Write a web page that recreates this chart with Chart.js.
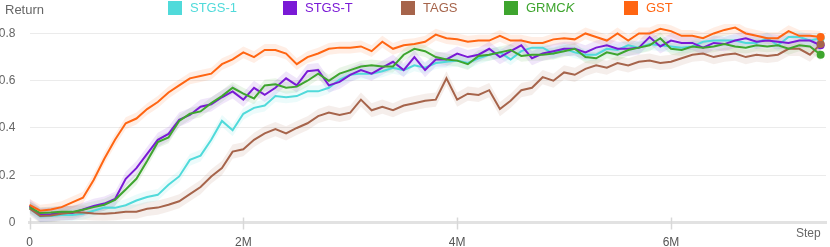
<!DOCTYPE html>
<html>
<head>
<meta charset="utf-8">
<script src="https://cdn.jsdelivr.net/npm/chart.js@4.4.0/dist/chart.umd.min.js"></script>
<style>
  html, body { margin: 0; padding: 0; background: #fff; }
  #wrap { position: relative; width: 830px; height: 247px; font-family: "Liberation Sans", Arial, sans-serif; }
  #chart { position: absolute; left: 0; top: 0; }
  .axisTitle { position: absolute; font-size: 13px; color: #666; }
  .legendItem { position: absolute; top: 0; height: 16px; font-size: 13px; line-height: 16px; white-space: nowrap; }
  .legendItem .box { position: absolute; left: 0; top: 1px; width: 14px; height: 14px; }
  .legendItem .label { position: absolute; left: 22px; top: 0; }
</style>
</head>
<body>
<div id="wrap">
  <canvas id="chart" width="830" height="247"></canvas>
  <div class="axisTitle" style="left:5px; top:2px;">Return</div>
  <div class="axisTitle" style="left:796px; top:226px; font-size:12px;">Step</div>
  <div id="legend"></div>
</div>
<script>
// step in millions
const STEPS = [
  0, 0.1, 0.2, 0.3, 0.4, 0.5, 0.6, 0.7, 0.8, 0.9,
  1.0, 1.1, 1.2, 1.3, 1.4, 1.5, 1.6, 1.7, 1.8, 1.9,
  2.0, 2.1, 2.2, 2.3, 2.4, 2.5, 2.6, 2.7, 2.8, 2.9,
  3.0, 3.1, 3.2, 3.3, 3.4, 3.5, 3.6, 3.7, 3.8, 3.9,
  4.0, 4.1, 4.2, 4.3, 4.4, 4.5, 4.6, 4.7, 4.8, 4.9,
  5.0, 5.1, 5.2, 5.3, 5.4, 5.5, 5.6, 5.7, 5.8, 5.9,
  6.0, 6.1, 6.2, 6.3, 6.4, 6.5, 6.6, 6.7, 6.8, 6.9,
  7.0, 7.1, 7.2, 7.3, 7.4
];

const STGS_1 = [
  0.06, 0.025, 0.028, 0.032, 0.032, 0.037, 0.05, 0.063, 0.062, 0.073,
  0.093, 0.108, 0.117, 0.16, 0.195, 0.265, 0.283, 0.35, 0.43, 0.39,
  0.46, 0.485, 0.495, 0.535, 0.53, 0.535, 0.555, 0.555, 0.57, 0.605,
  0.625, 0.63, 0.63, 0.64, 0.655, 0.645, 0.665, 0.655, 0.675, 0.68,
  0.685, 0.675, 0.695, 0.71, 0.72, 0.69, 0.725, 0.74, 0.74, 0.715,
  0.735, 0.72, 0.71, 0.71, 0.735, 0.73, 0.75, 0.74, 0.755, 0.75,
  0.745, 0.74, 0.745, 0.765, 0.77, 0.77, 0.77, 0.76, 0.76, 0.78,
  0.75, 0.785, 0.785, 0.77, 0.78
];

const STGS_T = [
  0.07, 0.032, 0.035, 0.04, 0.04, 0.055, 0.07, 0.08, 0.10, 0.185,
  0.23, 0.29, 0.35, 0.375, 0.435, 0.455, 0.49, 0.50, 0.53, 0.555,
  0.52, 0.57, 0.54, 0.57, 0.61, 0.58, 0.64, 0.645, 0.58, 0.595,
  0.625, 0.645, 0.63, 0.655, 0.68, 0.645, 0.70, 0.645, 0.69, 0.69,
  0.715, 0.70, 0.71, 0.735, 0.70, 0.725, 0.75, 0.695, 0.715, 0.725,
  0.735, 0.735, 0.72, 0.74, 0.75, 0.735, 0.735, 0.74, 0.785, 0.745,
  0.77, 0.76, 0.76, 0.74, 0.76, 0.755, 0.77, 0.78, 0.765, 0.77,
  0.765, 0.76, 0.77, 0.77, 0.75
];

const TAGS = [
  0.06, 0.028, 0.03, 0.037, 0.042, 0.042, 0.038, 0.037, 0.04, 0.045,
  0.046, 0.058, 0.063, 0.075, 0.09, 0.12, 0.15, 0.195, 0.23, 0.30,
  0.31, 0.35, 0.377, 0.395, 0.377, 0.40, 0.42, 0.45, 0.465, 0.455,
  0.465, 0.52, 0.475, 0.49, 0.475, 0.495, 0.505, 0.515, 0.52, 0.61,
  0.52, 0.545, 0.54, 0.56, 0.48, 0.515, 0.56, 0.57, 0.615, 0.60,
  0.635, 0.625, 0.65, 0.665, 0.655, 0.675, 0.665, 0.68, 0.685, 0.675,
  0.68, 0.695, 0.71, 0.715, 0.70, 0.71, 0.715, 0.70, 0.71, 0.705,
  0.71, 0.735, 0.735, 0.71, 0.755
];

const GRMCK = [
  0.065, 0.04, 0.042, 0.046, 0.045, 0.054, 0.065, 0.075, 0.096, 0.14,
  0.185, 0.26, 0.34, 0.36, 0.43, 0.46, 0.47, 0.505, 0.535, 0.57,
  0.545, 0.525, 0.58, 0.585, 0.57, 0.575, 0.60, 0.63, 0.60, 0.63,
  0.645, 0.66, 0.665, 0.66, 0.66, 0.71, 0.735, 0.725, 0.70, 0.69,
  0.685, 0.67, 0.705, 0.71, 0.72, 0.73, 0.705, 0.71, 0.71, 0.715,
  0.725, 0.735, 0.70, 0.695, 0.72, 0.71, 0.73, 0.74, 0.75, 0.78,
  0.735, 0.73, 0.745, 0.74, 0.745, 0.755, 0.745, 0.74, 0.75, 0.745,
  0.75, 0.735, 0.75, 0.745, 0.71
];

const GST = [
  0.075, 0.05, 0.055, 0.065, 0.085, 0.105, 0.18, 0.27, 0.35, 0.42,
  0.44, 0.48, 0.51, 0.55, 0.58, 0.61, 0.62, 0.63, 0.67, 0.69,
  0.72, 0.70, 0.73, 0.73, 0.715, 0.67, 0.70, 0.715, 0.735, 0.74,
  0.74, 0.745, 0.725, 0.765, 0.735, 0.75, 0.755, 0.765, 0.795, 0.78,
  0.775, 0.765, 0.77, 0.77, 0.79, 0.77, 0.77, 0.76, 0.76, 0.775,
  0.78, 0.775, 0.80, 0.785, 0.77, 0.80, 0.77, 0.80, 0.80, 0.82,
  0.81, 0.79, 0.79, 0.78, 0.80, 0.815, 0.825, 0.80, 0.79, 0.78,
  0.78, 0.81, 0.79, 0.79, 0.785
];

// half-width of the shaded spread band for each method
const BAND = [0.025, 0.03, 0.03, 0.025, 0.025];

const X_TICKS = [0, 2, 4, 6];
const Y_TICKS = [0, 0.2, 0.4, 0.6, 0.8];

const SERIES = [
  { name: 'STGS-1', values: STGS_1, color: '#50dada', left: 168 },
  { name: 'STGS-T', values: STGS_T, color: '#7a1ad6', left: 283 },
  { name: 'TAGS', values: TAGS, color: '#a6644b', left: 401 },
  { name: 'GRMC<i>K</i>', values: GRMCK, color: '#3ea52e', left: 504 },
  { name: 'GST', values: GST, color: '#ff6512', left: 624 }
];

function hexToRgba(hex, alpha) {
  const n = parseInt(hex.slice(1), 16);
  return `rgba(${(n >> 16) & 255}, ${(n >> 8) & 255}, ${n & 255}, ${alpha})`;
}

function toPoints(values, offset) {
  return values.map((v, i) => ({ x: STEPS[i], y: v + offset }));
}

const datasets = [];
SERIES.forEach((s, k) => {
  datasets.push({
    data: toPoints(s.values, -BAND[k]),
    borderWidth: 0,
    pointRadius: 0,
    fill: false,
    order: 20
  });
  datasets.push({
    data: toPoints(s.values, BAND[k]),
    borderWidth: 0,
    pointRadius: 0,
    backgroundColor: hexToRgba(s.color, 0.11),
    fill: '-1',
    order: 20
  });
});
SERIES.forEach((s, k) => {
  const last = s.values.length - 1;
  datasets.push({
    data: toPoints(s.values, 0),
    borderColor: s.color,
    backgroundColor: s.color,
    borderWidth: 2,
    tension: 0,
    fill: false,
    pointRadius: (ctx) => (ctx.dataIndex === last ? 4 : 0),
    pointBorderWidth: 0,
    pointBackgroundColor: s.color,
    clip: false,
    order: 10 - k
  });
});

// short marks crossing the x axis line at each step tick
const tickMarks = {
  id: 'tickMarks',
  afterDraw(chart) {
    const { ctx, scales } = chart;
    const bottom = chart.chartArea.bottom;
    ctx.save();
    ctx.strokeStyle = '#d8d8d8';
    ctx.lineWidth = 1.5;
    X_TICKS.forEach((v) => {
      const px = Math.round(scales.x.getPixelForValue(v)) + 0.5;
      ctx.beginPath();
      ctx.moveTo(px, bottom - 5);
      ctx.lineTo(px, bottom + 7);
      ctx.stroke();
    });
    ctx.restore();
  }
};

new Chart(document.getElementById('chart'), {
  type: 'line',
  data: { datasets },
  options: {
    responsive: false,
    animation: false,
    layout: { padding: { top: 24, right: 0, left: 0, bottom: 0 } },
    plugins: { legend: { display: false }, tooltip: { enabled: false } },
    scales: {
      x: {
        type: 'linear',
        min: 0,
        max: 7.45,
        afterBuildTicks: (scale) => { scale.ticks = X_TICKS.map((v) => ({ value: v })); },
        afterFit: (scale) => { scale.height = 24.5; },
        grid: { display: false, drawTicks: false },
        border: { display: true, color: '#e2e2e2', width: 3 },
        ticks: {
          padding: 13,
          color: '#555',
          font: { size: 12, family: '"Liberation Sans", Arial, sans-serif' },
          maxRotation: 0,
          callback: (v) => (v === 0 ? '0' : v + 'M')
        }
      },
      y: {
        min: 0,
        max: 0.84,
        afterBuildTicks: (scale) => { scale.ticks = Y_TICKS.map((v) => ({ value: v })); },
        afterFit: (scale) => { scale.width = 29.5; },
        grid: { color: '#ebebeb', drawTicks: false },
        border: { display: false },
        ticks: {
          padding: 14,
          color: '#666',
          font: { size: 12, family: '"Liberation Sans", Arial, sans-serif' },
          callback: (v) => (v === 0 ? '0' : v.toFixed(1))
        }
      }
    }
  },
  plugins: [tickMarks]
});

const legend = document.getElementById('legend');
SERIES.forEach((s) => {
  const item = document.createElement('div');
  item.className = 'legendItem';
  item.style.left = s.left + 'px';
  item.innerHTML = `<span class="box" style="background:${s.color}"></span><span class="label" style="color:${s.color}">${s.name}</span>`;
  legend.appendChild(item);
});
</script>
</body>
</html>
